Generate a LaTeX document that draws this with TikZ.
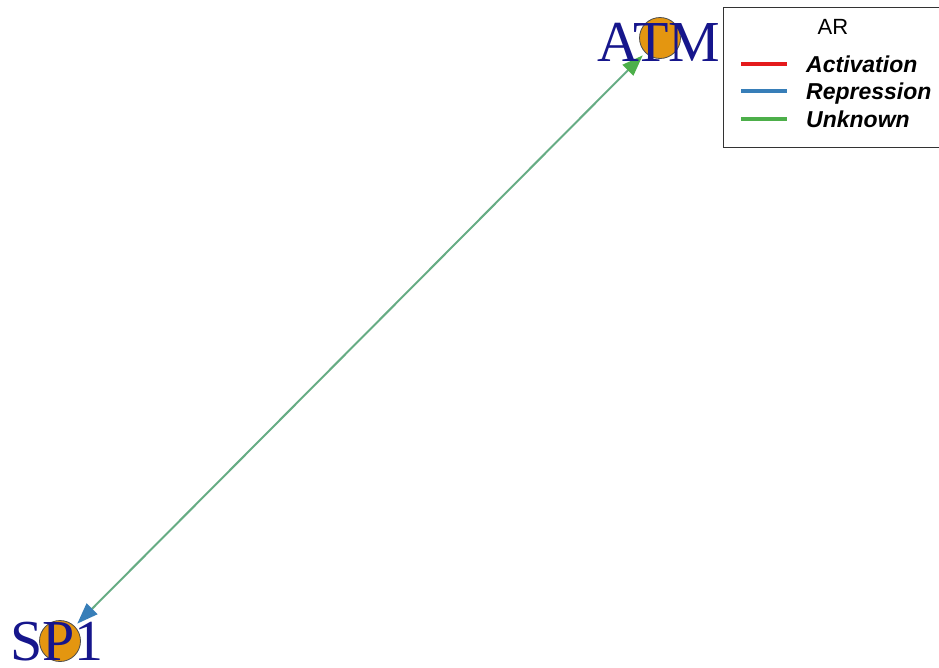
\documentclass[tikz,border=0pt]{standalone}
\usepackage{fontspec}
\setmainfont{Liberation Serif}
\newfontfamily\legfont{Liberation Sans}
\usetikzlibrary{arrows.meta}
\definecolor{nodeorange}{RGB}{228,150,16}
\definecolor{labelnavy}{RGB}{22,22,140}
\definecolor{edgemix}{RGB}{102,172,132}
\definecolor{actred}{RGB}{228,26,28}
\definecolor{repblue}{RGB}{55,126,184}
\definecolor{unkgreen}{RGB}{77,175,74}
\tikzset{
  gene/.style={circle, fill=nodeorange, draw=black!70, line width=0.8pt, minimum size=41pt, inner sep=0pt, outer sep=4pt},
  genelabel/.style={text=labelnavy, font=\fontsize{58}{58}\selectfont, inner sep=0pt, anchor=base},
  edgeline/.style={draw=edgemix, line width=2pt},
  legtext/.style={font=\legfont\fontsize{23}{23}\selectfont\bfseries\itshape, anchor=base west, inner sep=0pt},
  legline/.style={line width=3.5pt},
}
\begin{document}
\begin{tikzpicture}[x=1pt,y=-1pt]
\useasboundingbox (0,0) rectangle (939,667);
% nodes
\node[gene] (atm) at (660,38) {};
\node[gene] (sp1) at (60,641) {};
% edge
\draw[edgeline,
  {Triangle[length=21pt,width=15pt,color=repblue]}-{Triangle[length=21pt,width=15pt,color=unkgreen]}]
  (sp1) -- (atm);
% labels
\node[genelabel] (atmlab) at (659,61) {ATM};
\node[genelabel] (sp1lab) at (57,660) {SP1};
% legend
\draw[draw=black!80, line width=1pt, fill=white] (723,7) rectangle (950,147);
\node[font=\legfont\fontsize{22}{22}\selectfont, inner sep=0pt] (legtitle) at (833,27) {AR};
\coordinate (l1a) at (741,64); \coordinate (l1b) at (787,64);
\coordinate (l2a) at (741,91); \coordinate (l2b) at (787,91);
\coordinate (l3a) at (741,119); \coordinate (l3b) at (787,119);
\draw[legline, actred] (l1a) -- (l1b);
\draw[legline, repblue] (l2a) -- (l2b);
\draw[legline, unkgreen] (l3a) -- (l3b);
\node[legtext] (leg1) at (806,72) {Activation};
\node[legtext] (leg2) at (806,99) {Repression};
\node[legtext] (leg3) at (806,127) {Unknown};
\end{tikzpicture}
\end{document}
